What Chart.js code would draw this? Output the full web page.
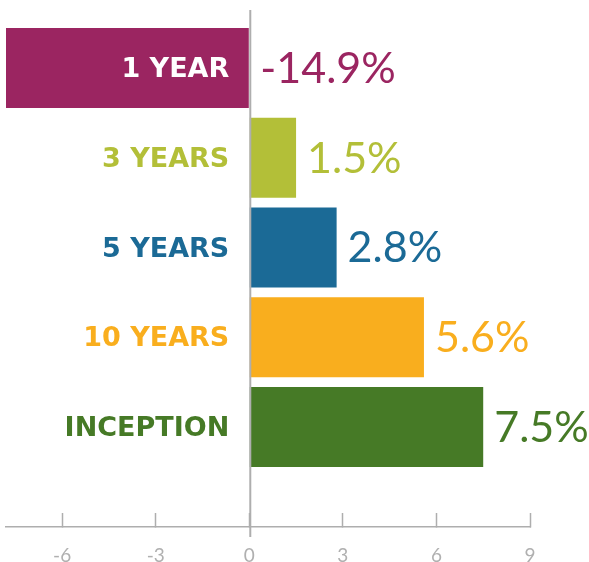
<!DOCTYPE html>
<html>
<head>
<meta charset="utf-8">
<script src="https://cdn.jsdelivr.net/npm/chart.js@4.4.0/dist/chart.umd.min.js"></script>
<style>
  html, body { margin: 0; padding: 0; background: #fff; }
  #wrap { width: 589px; height: 562px; }
</style>
</head>
<body>
<div id="wrap"><canvas id="perfChart" width="589" height="562"></canvas></div>
<script>
// --- Data ---
const periods = ['1 YEAR', '3 YEARS', '5 YEARS', '10 YEARS', 'INCEPTION'];
const returns = [-14.9, 1.5, 2.8, 5.6, 7.5];
const xTicks = [-6, -3, 0, 3, 6, 9];

const barColors = ['#9b2561', '#b3bf38', '#1b6a96', '#f9ae1e', '#467a26'];
const axisGray = '#aeaeae';

// --- Labels drawn beside each bar ---
const barLabels = {
    id: 'barLabels',
    afterDatasetsDraw(chart) {
        const ctx = chart.ctx;
        const xs = chart.scales.x;
        const zero = xs.getPixelForValue(0);
        const meta = chart.getDatasetMeta(0);

        ctx.save();
        ctx.textBaseline = 'middle';
        meta.data.forEach((bar, i) => {
            const v = returns[i];
            // period name, right aligned left of the zero line
            ctx.font = 'bold 27px "DejaVu Sans"';
            ctx.textAlign = 'right';
            ctx.fillStyle = v < 0 ? '#ffffff' : barColors[i];
            ctx.fillText(periods[i], zero - 20, bar.y + 2);

            // value past the end of the bar
            ctx.font = '43px Lato';
            ctx.textAlign = 'left';
            ctx.fillStyle = barColors[i];
            const start = Math.max(bar.x, zero) + 11;
            ctx.fillText(v.toFixed(1) + '%', start, bar.y + 1);
        });

        // zero line, running a little past the axis
        ctx.strokeStyle = axisGray;
        ctx.lineWidth = 2;
        ctx.beginPath();
        ctx.moveTo(zero + 1, chart.chartArea.top);
        ctx.lineTo(zero + 1, chart.chartArea.bottom + 10);
        ctx.stroke();
        ctx.restore();
    }
};

new Chart(document.getElementById('perfChart'), {
    type: 'bar',
    data: {
        datasets: [{
            data: returns.map((v, i) => ({ x: v, y: i })),
            backgroundColor: barColors,
            borderWidth: 0,
            categoryPercentage: 1,
            barPercentage: 0.89
        }]
    },
    options: {
        indexAxis: 'y',
        responsive: false,
        animation: false,
        layout: { padding: { left: 6, right: 59, top: 10, bottom: 0 } },
        plugins: { legend: { display: false }, tooltip: { enabled: false } },
        scales: {
            y: {
                type: 'linear',
                display: false,
                reverse: true,
                offset: false,
                min: -0.646,
                max: 5.114,
                // one tick per period so bar thickness follows the row spacing
                afterBuildTicks: (scale) => { scale.ticks = periods.map((p, i) => ({ value: i })); }
            },
            x: {
                type: 'linear',
                min: -7.8,
                max: 9,
                afterBuildTicks: (scale) => { scale.ticks = xTicks.map(v => ({ value: v })); },
                afterFit: (scale) => { scale.height = 35; },
                grid: {
                    drawOnChartArea: false,
                    tickLength: -14,
                    tickColor: axisGray,
                    tickWidth: 1.5
                },
                border: { color: axisGray, width: 1.5 },
                ticks: {
                    padding: 31,
                    color: '#b0b0b0',
                    font: { family: 'Lato', size: 19 }
                }
            }
        }
    },
    plugins: [barLabels]
});
</script>
</body>
</html>
